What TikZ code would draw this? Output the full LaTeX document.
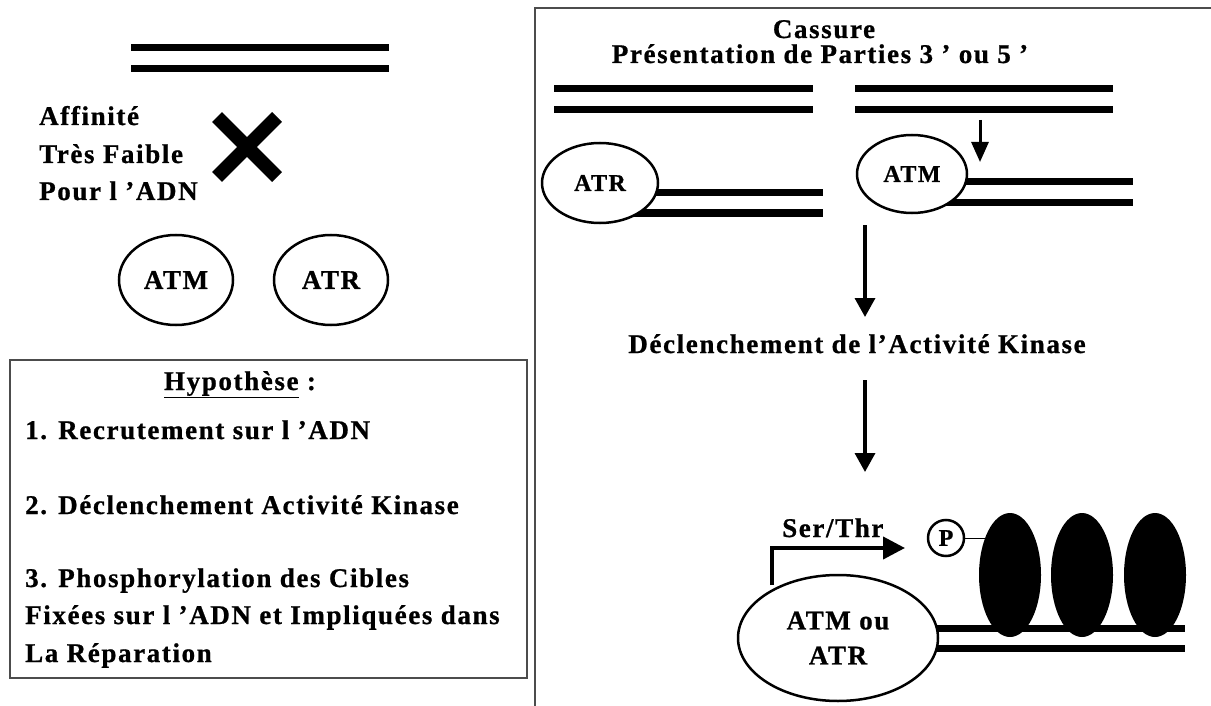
\documentclass[tikz,border=0pt]{standalone}
\usepackage{fontspec}
\setmainfont{Liberation Serif}[LetterSpace=6, BoldFeatures={FakeBold=0.8}]
\usetikzlibrary{positioning, arrows.meta, shapes.geometric}

\begin{document}
\begin{tikzpicture}[x=1pt, y=-1pt,
    txt/.style={font=\fontsize{27}{30}\selectfont\bfseries, inner sep=0pt},
    smalltxt/.style={font=\fontsize{24}{28}\selectfont\bfseries, inner sep=0pt},
    strand/.style={line width=7pt},
    prot/.style={ellipse, draw, line width=2.5pt, fill=white, inner sep=0pt},
    target/.style={ellipse, fill=black, minimum width=62pt, minimum height=124pt},
    bigarrow/.style={line width=3.5pt, -{Triangle[length=19pt, width=20pt]}},
    frame/.style={line width=2pt, black!70}]

  \useasboundingbox (0,0) rectangle (1211,706);

  % ── Left: intact DNA, kinases free ─────────────────────────────
  \draw[strand] (131,48) -- (389,48);
  \draw[strand] (131,69) -- (389,69);

  \node[txt, anchor=base west] (aff1) at (39,125) {Affinité};
  \node[txt, anchor=base west] (aff2) at (39,163) {Très Faible};
  \node[txt, anchor=base west] (aff3) at (39,200) {Pour l ’ADN};

  % cross
  \draw[line width=14pt] (217,117) -- (277,177);
  \draw[line width=14pt] (277,117) -- (217,177);

  \node[prot, txt, minimum width=114pt, minimum height=90pt] (atm) at (176,280) {ATM};
  \node[prot, txt, minimum width=114pt, minimum height=90pt] (atr) at (331,280) {ATR};

  % ── Hypothesis box ─────────────────────────────────────────────
  \draw[frame] (10,360) rectangle (527,678);
  \node[txt, anchor=base] (hyp) at (240,390) {\underline{Hypothèse} :};
  \node[txt, anchor=base west] (h1) at (25,439) {1. Recrutement sur l ’ADN};
  \node[txt, anchor=base west] (h2) at (25,514) {2. Déclenchement Activité Kinase};
  \node[txt, anchor=base west] (h3) at (25,587) {3. Phosphorylation des Cibles};
  \node[txt, anchor=base west] (h3b) at (25,624) {Fixées sur l ’ADN et Impliquées dans};
  \node[txt, anchor=base west] (h3c) at (25,662) {La Réparation};

  % ── Right panel ────────────────────────────────────────────────
  \draw[frame] (1211,8) -- (535,8) -- (535,706);
  \node[txt, anchor=base] (cas) at (824,38) {Cassure};
  \node[txt, anchor=base] (pres) at (820,63) {Présentation de Parties 3 ’ ou 5 ’};

  % broken DNA
  \draw[strand] (554,89) -- (813,89);
  \draw[strand] (554,110) -- (813,110);
  \draw[strand] (855,89) -- (1113,89);
  \draw[strand] (855,110) -- (1113,110);

  % ends bound by the kinases
  \draw[strand] (600,193) -- (823,193);
  \draw[strand] (600,213) -- (823,213);
  \node[prot, smalltxt, minimum width=116pt, minimum height=80pt] (atr2) at (600,183) {ATR};
  \draw[strand] (912,182) -- (1133,182);
  \draw[strand] (912,203) -- (1133,203);
  \node[prot, smalltxt, minimum width=110pt, minimum height=78pt] (atm2) at (912,174) {ATM};

  \coordinate (endA) at (980,120);
  \coordinate (endB) at (980,162);
  \draw[line width=3pt, -{Triangle[length=20pt, width=17pt]}] (endA) -- (endB);

  % activation
  \coordinate (a1) at (865,225);
  \coordinate (a1e) at (865,317);
  \draw[bigarrow] (a1) -- (a1e);
  \node[txt, anchor=base] (kin) at (857,353) {Déclenchement de l’Activité Kinase};
  \coordinate (a2) at (865,380);
  \coordinate (a2e) at (865,472);
  \draw[bigarrow] (a2) -- (a2e);

  % ── Phosphorylation of bound targets ──────────────────────────
  \draw[strand] (838,628) -- (1185,628);
  \draw[strand] (838,648) -- (1185,648);
  \foreach \x/\n in {1010/1, 1082/2, 1155/3}
    \node[target] (t\n) at (\x,575) {};
  \node[prot, txt, minimum width=200pt, minimum height=126pt, align=center,
        font=\fontsize{27}{35}\selectfont\bfseries] (kin2) at (838,638) {ATM ou\\ATR};

  \node[circle, draw, line width=2.5pt, minimum size=36pt, inner sep=0pt, smalltxt] (p) at (946,538) {P};
  \draw[line width=1pt] (p.east) -- ++(22,0);

  \coordinate (st) at (772,585);
  \coordinate (ph) at (905,548);
  \draw[line width=4pt, -{Triangle[length=22pt, width=22pt]}] (st) |- (ph);
  \node[txt, anchor=base west] (ser) at (782,537) {Ser/Thr};
\end{tikzpicture}
\end{document}
